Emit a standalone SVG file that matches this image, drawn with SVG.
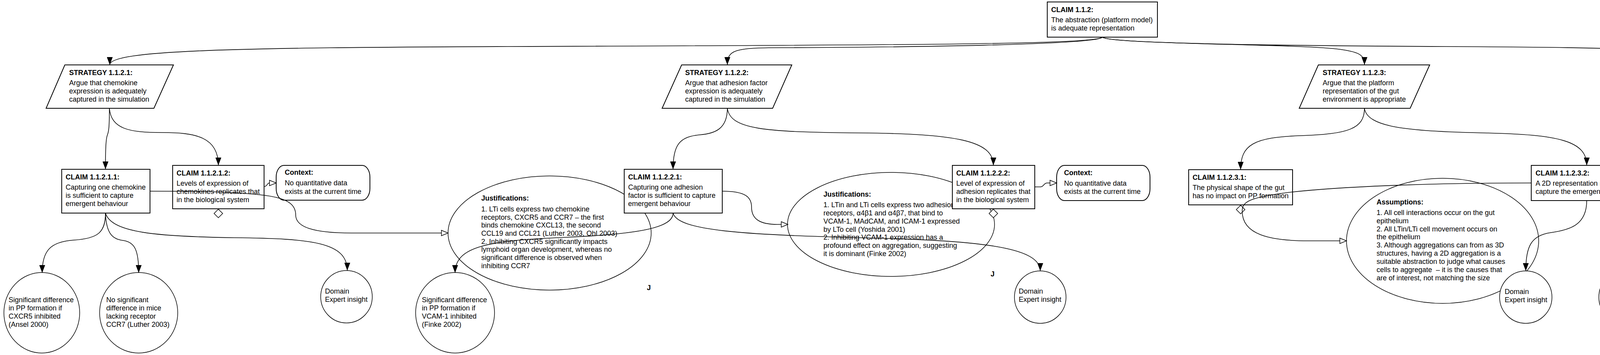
<svg xmlns="http://www.w3.org/2000/svg" width="5272" height="908" viewBox="0 0 5272 908">
<style>
.t{font-family:"Liberation Sans",Arial,sans-serif;font-size:18px;fill:#000}
.b{font-weight:bold}
.box{fill:#fff;stroke:#000;stroke-width:2}
.ell{fill:#fff;stroke:#000;stroke-width:1.5}
.dia{fill:#fff;stroke:#000;stroke-width:1.5}
.c{fill:none;stroke:#000;stroke-width:1.6}
.f{marker-end:url(#arr)}
.o{marker-end:url(#open)}
</style>
<defs>
<marker id="arr" markerWidth="20" markerHeight="15" refX="20" refY="7.5" orient="auto" markerUnits="userSpaceOnUse"><path d="M0,0 L20,7.5 L0,15 z" fill="#000"/></marker>
<marker id="open" markerWidth="20" markerHeight="16" refX="18" refY="8" orient="auto" markerUnits="userSpaceOnUse"><path d="M1,1 L18,8 L1,15 z" fill="#fff" stroke="#000" stroke-width="1.5"/></marker>
</defs>
<rect width="5272" height="908" fill="#fff"/>

<g id="J1">
<ellipse class="ell" cx="1407" cy="596" rx="260" ry="146"/>
<text class="t b" x="1232" y="513">Justifications:</text>
<text class="t" x="1232" y="541">1. LTi cells express two chemokine</text>
<text class="t" x="1232" y="562">receptors, CXCR5 and CCR7 – the first</text>
<text class="t" x="1232" y="582">binds chemokine CXCL13, the second</text>
<text class="t" x="1232" y="603">CCL19 and CCL21 (Luther 2003, Ohl 2003)</text>
<text class="t" x="1232" y="624">2. Inhibiting CXCR5 significantly impacts</text>
<text class="t" x="1232" y="644">lymphoid organ development, whereas no</text>
<text class="t" x="1232" y="665">significant difference is observed when</text>
<text class="t" x="1232" y="686">inhibiting CCR7</text>
<text class="t b" x="1656" y="742">J</text>
</g>
<g id="J2">
<ellipse class="ell" cx="2281" cy="574" rx="265" ry="133"/>
<text class="t b" x="2108" y="503">Justifications:</text>
<text class="t" x="2108" y="530">1. LTin and LTi cells express two adhesion</text>
<text class="t" x="2108" y="551">receptors, α4β1 and α4β7, that bind to</text>
<text class="t" x="2108" y="572">VCAM-1, MAdCAM, and ICAM-1 expressed</text>
<text class="t" x="2108" y="593">by LTo cell (Yoshida 2001)</text>
<text class="t" x="2108" y="613">2. Inhibiting VCAM-1 expression has a</text>
<text class="t" x="2108" y="634">profound effect on aggregation, suggesting</text>
<text class="t" x="2108" y="655">it is dominant (Finke 2002)</text>
<text class="t b" x="2536" y="707">J</text>
</g>
<g id="A1">
<ellipse class="ell" cx="3693" cy="616" rx="246" ry="160"/>
<text class="t b" x="3524" y="523">Assumptions:</text>
<text class="t" x="3524" y="550">1. All cell interactions occur on the gut</text>
<text class="t" x="3524" y="571">epithelium</text>
<text class="t" x="3524" y="592">2. All LTin/LTi cell movement occurs on</text>
<text class="t" x="3524" y="612">the epithelium</text>
<text class="t" x="3524" y="633">3. Although aggregations can from as 3D</text>
<text class="t" x="3524" y="654">structures, having a 2D aggregation is a</text>
<text class="t" x="3524" y="675">suitable abstraction to judge what causes</text>
<text class="t" x="3524" y="696">cells to aggregate &#160;– it is the causes that</text>
<text class="t" x="3524" y="717">are of interest, not matching the size</text>
</g>
<g id="A2">
<ellipse class="ell" cx="4989" cy="614" rx="280" ry="159"/>
<text class="t b" x="4799" y="523">Assumptions:</text>
<text class="t" x="4799" y="548">1. RET signalling is thought to upregulate LTαβ</text>
<text class="t" x="4799" y="569">signalling on LTin cells – this occurs through</text>
<text class="t" x="4799" y="590">stable contact between an LTin and LTi, so is</text>
<text class="t" x="4799" y="611">implicitly included</text>
<text class="t" x="4799" y="632">2. No definitive understanding of how LTαβ</text>
<text class="t" x="4799" y="653">upregulated on LTi cells (Section 1.3.2) – just</text>
<text class="t" x="4799" y="673">that no PP form if not upregulated &#160;(Adachi</text>
<text class="t" x="4799" y="694">1997) – assumption made the mechanism to</text>
<text class="t" x="4799" y="715">upregulate LTαβ is implicitly included</text>
<text class="t b" x="5254" y="773">A</text>
</g>

<g id="E1">
<ellipse class="ell" cx="107" cy="800" rx="97" ry="103"/>
<text class="t" x="22" y="773">Significant difference</text>
<text class="t" x="22" y="794">in PP formation if</text>
<text class="t" x="22" y="815">CXCR5 inhibited</text>
<text class="t" x="22" y="836">(Ansel 2000)</text>
</g>
<g id="E2">
<ellipse class="ell" cx="355" cy="800" rx="100" ry="103"/>
<text class="t" x="272" y="773">No significant</text>
<text class="t" x="272" y="794">difference in mice</text>
<text class="t" x="272" y="815">lacking receptor</text>
<text class="t" x="272" y="836">CCR7 (Luther 2003)</text>
</g>
<g id="E3">
<ellipse class="ell" cx="887" cy="759" rx="66" ry="67"/>
<text class="t" x="832" y="751">Domain</text>
<text class="t" x="832" y="772">Expert insight</text>
</g>
<g id="E4">
<ellipse class="ell" cx="1165" cy="800" rx="101" ry="103"/>
<text class="t" x="1080" y="773">Significant difference</text>
<text class="t" x="1080" y="794">in PP formation if</text>
<text class="t" x="1080" y="815">VCAM-1 inhibited</text>
<text class="t" x="1080" y="836">(Finke 2002)</text>
</g>
<g id="E5">
<ellipse class="ell" cx="2663" cy="760" rx="66" ry="67"/>
<text class="t" x="2608" y="751">Domain</text>
<text class="t" x="2608" y="772">Expert insight</text>
</g>
<g id="E6">
<ellipse class="ell" cx="3906" cy="760" rx="67" ry="67"/>
<text class="t" x="3852" y="752">Domain</text>
<text class="t" x="3852" y="773">Expert insight</text>
</g>
<g id="E7">
<ellipse class="ell" cx="4159" cy="760" rx="66" ry="67"/>
<text class="t" x="4105" y="752">Domain</text>
<text class="t" x="4105" y="773">Expert insight</text>
</g>
<g id="E8">
<ellipse class="ell" cx="4395" cy="780" rx="80" ry="85"/>
<text class="t" x="4322" y="762">Cell behaviour</text>
<text class="t" x="4322" y="783">calibration results</text>
<text class="t" x="4322" y="803">(Figure 2.10)</text>
</g>

<g id="C112">
<rect class="box" x="2681" y="5" width="282" height="90"/>
<text class="t b" x="2691" y="31">CLAIM 1.1.2:</text>
<text class="t" x="2691" y="57">The abstraction (platform model)</text>
<text class="t" x="2691" y="78">is adequate representation</text>
</g>
<g id="S1">
<polygon class="box" points="166,166 444,166 394,277 118,277"/>
<text class="t b" x="177" y="192">STRATEGY 1.1.2.1:</text>
<text class="t" x="177" y="218">Argue that chemokine</text>
<text class="t" x="177" y="239">expression is adequately</text>
<text class="t" x="177" y="260">captured in the simulation</text>
</g>
<g id="S2">
<polygon class="box" points="1745,166 2027,166 1978,277 1695,277"/>
<text class="t b" x="1754" y="192">STRATEGY 1.1.2.2:</text>
<text class="t" x="1754" y="218">Argue that adhesion factor</text>
<text class="t" x="1754" y="239">expression is adequately</text>
<text class="t" x="1754" y="260">captured in the simulation</text>
</g>
<g id="S3">
<polygon class="box" points="3375,166 3660,166 3610,277 3326,277"/>
<text class="t b" x="3386" y="192">STRATEGY 1.1.2.3:</text>
<text class="t" x="3386" y="218">Argue that the platform</text>
<text class="t" x="3386" y="239">representation of the gut</text>
<text class="t" x="3386" y="260">environment is appropriate</text>
</g>
<g id="S4">
<polygon class="box" points="4203,166 4538,166 4489,277 4153,277"/>
<text class="t b" x="4213" y="192">STRATEGY 1.1.2.4:</text>
<text class="t" x="4213" y="218">Argue that the abstractions made</text>
<text class="t" x="4213" y="239">concerning cell interaction do not</text>
<text class="t" x="4213" y="260">affect emergent behaviours</text>
</g>
<g id="C11211">
<rect class="box" x="158" y="433" width="226" height="112"/>
<text class="t b" x="168" y="459">CLAIM 1.1.2.1.1:</text>
<text class="t" x="168" y="485">Capturing one chemokine</text>
<text class="t" x="168" y="506">is sufficient to capture</text>
<text class="t" x="168" y="527">emergent behaviour</text>
</g>
<g id="C11212">
<rect class="box" x="442" y="423" width="234" height="111"/>
<text class="t b" x="452" y="449">CLAIM 1.1.2.1.2:</text>
<text class="t" x="452" y="475">Levels of expression of</text>
<text class="t" x="452" y="496">chemokines replicates that</text>
<text class="t" x="452" y="517">in the biological system</text>
<polygon class="dia" points="559,535 570,546 559,557 548,546"/>
</g>
<g id="CTX1">
<rect class="box" x="707" y="423" width="240" height="89" rx="20" ry="30"/>
<text class="t b" x="729" y="447">Context:</text>
<text class="t" x="729" y="474">No quantitative data</text>
<text class="t" x="729" y="496">exists at the current time</text>
</g>
<g id="C11221">
<rect class="box" x="1598" y="433" width="251" height="112"/>
<text class="t b" x="1608" y="459">CLAIM 1.1.2.2.1:</text>
<text class="t" x="1608" y="485">Capturing one adhesion</text>
<text class="t" x="1608" y="506">factor is sufficient to capture</text>
<text class="t" x="1608" y="527">emergent behaviour</text>
</g>
<g id="C11222">
<rect class="box" x="2438" y="423" width="211" height="111"/>
<text class="t b" x="2448" y="449">CLAIM 1.1.2.2.2:</text>
<text class="t" x="2448" y="475">Level of expression of</text>
<text class="t" x="2448" y="496">adhesion replicates that</text>
<text class="t" x="2448" y="517">in the biological system</text>
<polygon class="dia" points="2543,535 2554,546 2543,557 2532,546"/>
</g>
<g id="CTX2">
<rect class="box" x="2705" y="423" width="239" height="90" rx="20" ry="30"/>
<text class="t b" x="2724" y="448">Context:</text>
<text class="t" x="2724" y="475">No quantitative data</text>
<text class="t" x="2724" y="496">exists at the current time</text>
</g>
<g id="C11231">
<rect class="box" x="3043" y="434" width="266" height="90"/>
<text class="t b" x="3053" y="460">CLAIM 1.1.2.3.1:</text>
<text class="t" x="3053" y="486">The physical shape of the gut</text>
<text class="t" x="3053" y="507">has no impact on PP formation</text>
<polygon class="dia" points="3176,525 3187,536 3176,547 3165,536"/>
</g>
<g id="C11232">
<rect class="box" x="3920" y="423" width="285" height="90"/>
<text class="t b" x="3931" y="449">CLAIM 1.1.2.3.2:</text>
<text class="t" x="3931" y="475">A 2D representation is suitable to</text>
<text class="t" x="3931" y="496">capture the emergent behaviours</text>
</g>
<g id="C11241">
<rect class="box" x="4262" y="423" width="262" height="90"/>
<text class="t b" x="4272" y="449">CLAIM 1.1.2.4.1:</text>
<text class="t" x="4272" y="475">It is not necessary to explicitly</text>
<text class="t" x="4272" y="496">capture lymphotoxin signalling</text>
</g>

<g id="connectors">
<path class="c f" d="M2822,95 C2800,113 2400,115 1300,119 C600,122 281,128 281,166"/>
<path class="c f" d="M2822,95 C2810,115 2300,121 2000,122 C1880,122 1862,128 1862,166"/>
<path class="c f" d="M2822,95 C2840,113 3300,112 3420,125 C3480,132 3493,140 3493,166"/>
<path class="c f" d="M2822,95 C2840,112 3300,117 3700,119 C4200,122 4345,125 4345,166"/>
<path class="c f" d="M280,277 C280,320 279,335 275,345 C271,355 270,380 270,433"/>
<path class="c f" d="M280,277 C285,330 330,339 415,339 C500,339 559,350 559,423"/>
<path class="c o" d="M384,489 C520,489 600,490 680,500 C740,508 757,525 757,550 C757,580 800,596 900,596 L1147,596"/>
<path class="c o" d="M676,477 C685,477 683,468 690,468 L707,468"/>
<path class="c f" d="M270,545 C270,595 250,610 190,614 C130,618 108,640 108,698"/>
<path class="c f" d="M270,545 C272,600 290,612 315,615 C345,619 355,640 355,698"/>
<path class="c f" d="M270,545 C285,595 400,605 600,608 C800,610 889,620 889,692"/>
<path class="c f" d="M1862,277 C1862,330 1830,342 1790,345 C1740,350 1723,370 1723,433"/>
<path class="c f" d="M1862,277 C1870,330 1950,338 2200,340 C2450,342 2543,360 2543,423"/>
<path class="c o" d="M1849,489 C1910,489 1924,505 1924,530 C1924,560 1945,574 1990,574 L2017,574"/>
<path class="c f" d="M1723,545 C1723,580 1650,598 1450,607 C1250,615 1165,630 1165,698"/>
<path class="c f" d="M1723,545 C1735,590 1900,600 2200,608 C2500,615 2663,630 2663,693"/>
<path class="c o" d="M2649,478 L2663,478 C2673,478 2671,468 2681,468 L2705,468"/>
<path class="c f" d="M3493,277 C3493,330 3450,343 3330,347 C3210,351 3176,370 3176,434"/>
<path class="c f" d="M3493,277 C3500,325 3600,336 3800,340 C3990,344 4062,360 4062,423"/>
<path class="c o" d="M3920,468 C3700,468 3450,475 3300,492 C3200,505 3180,515 3180,540 C3180,600 3250,616 3350,616 L3447,616"/>
<path class="c f" d="M4062,513 C4062,575 4020,588 3970,595 C3920,602 3906,630 3906,693"/>
<path class="c f" d="M4345,277 C4345,320 4350,335 4365,340 C4385,348 4393,370 4393,423"/>
<path class="c o" d="M4524,467 C4590,467 4605,500 4605,540 C4605,590 4630,614 4680,614 L4709,614"/>
<path class="c f" d="M4393,513 C4393,575 4330,590 4250,595 C4180,600 4159,630 4159,693"/>
<path class="c f" d="M4393,513 L4393,695"/>
</g>
</svg>
